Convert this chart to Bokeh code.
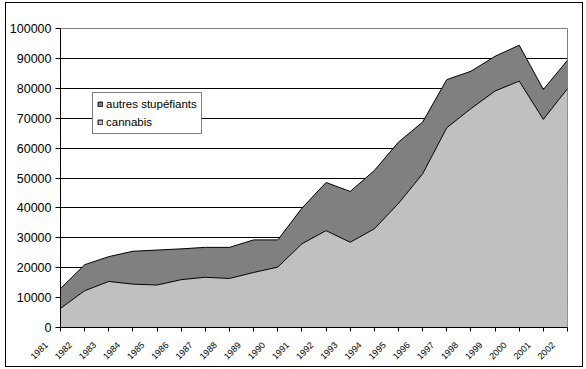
from bokeh.plotting import figure
from bokeh.models import (Range1d, FixedTicker, Legend, LegendItem, NumeralTickFormatter)
from bokeh.embed import file_html
from bokeh.resources import INLINE

# Drug-related arrests per year (stacked: cannabis + other narcotics)
years = list(range(1981, 2003))
year_labels = [str(y) for y in years]
cannabis = [6400, 12300, 15400, 14500, 14200, 16000, 16800, 16400, 18400, 20200, 28000,
            32400, 28500, 33000, 41500, 51400, 66800, 73200, 79100, 82400, 69600, 79900]
autres = [6600, 8700, 8300, 11000, 11700, 10300, 10000, 10400, 10900, 9100, 11900,
          16100, 17000, 19500, 20500, 17300, 16100, 12500, 11600, 12000, 10000, 9500]
y_ticks = list(range(0, 100001, 10000))

total = [c + a for c, a in zip(cannabis, autres)]
zeros = [0] * len(years)

LIGHT = "#c0c0c0"
DARK = "#808080"
FONT = "Liberation Sans"
# trailing no-break spaces push each slanted year label down-left of its tick
PAD = "\u00a0" * 8

p = figure(width=578, height=365, output_backend="svg", toolbar_location=None,
           x_range=Range1d(years[0], years[-1]), y_range=Range1d(0, 100000),
           min_border_left=50, min_border_right=17, min_border_top=25, min_border_bottom=41,
           margin=(2, 0, 0, 5),
           styles={"border": "1px solid black"})
p.background_fill_color = "white"
p.border_fill_color = "white"
p.outline_line_color = DARK
p.outline_line_width = 1

# Stacked areas
p.varea(x=years, y1=zeros, y2=cannabis, fill_color=LIGHT)
p.varea(x=years, y1=cannabis, y2=total, fill_color=DARK)
p.line(x=years, y=cannabis, line_color="black", line_width=1)
p.line(x=years, y=total, line_color="black", line_width=1)

# Axes
for ax in (p.xaxis, p.yaxis):
    ax.axis_line_color = "black"
    ax.axis_line_width = 1
    ax.major_tick_line_color = "black"
    ax.major_tick_out = 5
    ax.major_tick_in = 0
    ax.minor_tick_line_color = None

p.xaxis.ticker = FixedTicker(ticks=years)
p.xaxis.major_label_overrides = {y: s + PAD for y, s in zip(years, year_labels)}
p.xaxis.major_label_orientation = 0.785
p.xaxis.major_label_text_font = FONT
p.xaxis.major_label_text_font_size = "9px"
p.xaxis.major_label_text_color = "black"
p.xaxis.major_label_standoff = -2
p.xaxis.major_tick_out = 4

p.yaxis.ticker = FixedTicker(ticks=y_ticks)
p.yaxis.formatter = NumeralTickFormatter(format="0")
p.yaxis.major_label_text_font = FONT
p.yaxis.major_label_text_font_size = "12.5px"
p.yaxis.major_label_text_color = "black"
p.yaxis.major_label_standoff = 4

p.xgrid.grid_line_color = None
p.ygrid.ticker = FixedTicker(ticks=y_ticks[1:-1])
p.ygrid.grid_line_color = "black"
p.ygrid.grid_line_width = 1

# Legend with outlined swatches
nan = float("nan")
sw_autres = p.quad(left=[nan], right=[nan], top=[nan], bottom=[nan],
                   fill_color=DARK, line_color="black")
sw_cann = p.quad(left=[nan], right=[nan], top=[nan], bottom=[nan],
                 fill_color=LIGHT, line_color="black")
legend = Legend(items=[LegendItem(label="autres stupéfiants", renderers=[sw_autres]),
                       LegendItem(label="cannabis", renderers=[sw_cann])],
                location=(32, 193), orientation="vertical")
legend.label_text_font = FONT
legend.label_text_font_size = "11.5px"
legend.label_text_color = "black"
legend.glyph_width = 6
legend.glyph_height = 6
legend.label_standoff = 3
legend.label_height = 14
legend.spacing = 4
legend.padding = 4
legend.margin = 0
legend.border_line_color = "black"
legend.border_line_width = 1
legend.background_fill_color = "white"
legend.background_fill_alpha = 1
p.add_layout(legend)

open("out.html", "w").write(file_html(p, INLINE))
